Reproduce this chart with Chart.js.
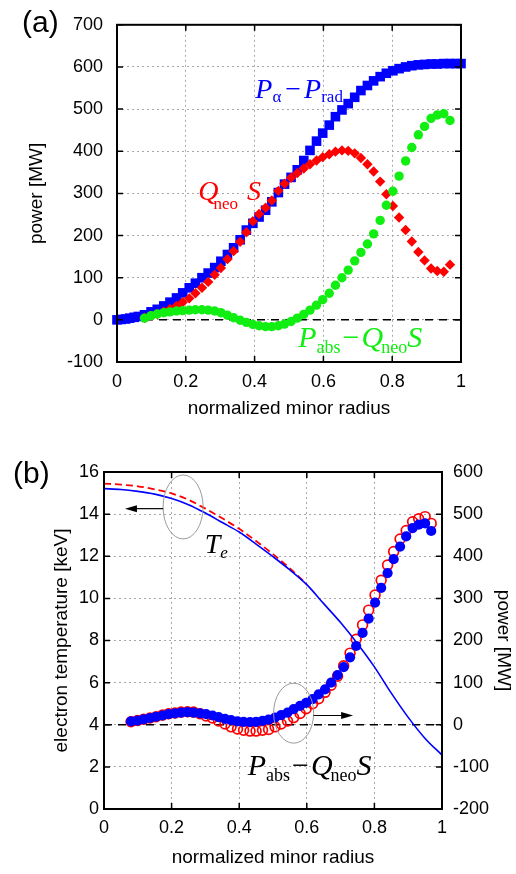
<!DOCTYPE html>
<html>
<head>
<meta charset="utf-8">
<script src="https://cdn.jsdelivr.net/npm/chart.js@4.4.1/dist/chart.umd.min.js"></script>
<style>
  body { margin: 0; background: #fff; }
  #wrap { position: relative; width: 516px; height: 874px; }
  canvas { position: absolute; left: 0; }
  #chartA { top: 0; }
  #chartB { top: 440px; }
</style>
</head>
<body>
<div id="wrap">
  <canvas id="chartA" width="516" height="440"></canvas>
  <canvas id="chartB" width="516" height="434"></canvas>
</div>
<script>
// normalized minor radius of the profile points
const radius = [0.080, 0.099, 0.117, 0.136, 0.154, 0.173, 0.191, 0.210, 0.228, 0.247,
  0.265, 0.284, 0.302, 0.321, 0.339, 0.358, 0.376, 0.395, 0.413, 0.432,
  0.450, 0.469, 0.487, 0.506, 0.524, 0.543, 0.561, 0.580, 0.598, 0.617,
  0.635, 0.654, 0.672, 0.691, 0.709, 0.728, 0.746, 0.765, 0.783, 0.802,
  0.820, 0.839, 0.857, 0.876, 0.894, 0.913, 0.931, 0.950, 0.968];
const alphaRadius = [0, 0.012, 0.025, 0.037, 0.050, 0.062].concat(radius, [0.984, 1.0]);

// (a) power [MW]
const pAlphaMinusRad = [0, 1, 2, 4, 6, 8,
  12, 19, 25, 33, 42, 52, 64, 76, 87, 100,
  111, 124, 139, 155, 171, 190, 213, 229, 244, 260,
  280, 302, 322, 338, 356, 378, 402, 424, 443, 462,
  482, 498, 513, 528, 544, 556, 567, 577, 585, 591,
  596, 600, 603, 605, 606, 607, 607, 608, 608,
  608, 608];
const qNeoS = [5, 10, 14, 20, 26, 33, 42, 51, 63, 76,
  90, 107, 123, 144, 163, 185, 208, 234, 251, 266,
  283, 306, 323, 337, 348, 359, 369, 378, 386, 393,
  399, 402, 401, 395, 384, 369, 352, 328, 298, 270,
  243, 213, 186, 161, 141, 122, 116, 114, 131];
const pAbsMinusQS = [4, 10, 14, 17, 19, 21, 22, 23, 24, 24,
  23, 21, 17, 11, 5, -1, -6, -11, -14, -16,
  -16, -14, -10, -4, 4, 13, 23, 35, 48, 63,
  82, 100, 118, 140, 160, 180, 204, 236, 272, 305,
  341, 377, 409, 439, 459, 478, 486, 489, 473];

// (b) P_abs - Q_neo S [MW], two cases
const pAbsBlue = [8, 10, 13, 16, 19, 22, 25, 27, 29, 30,
  29, 27, 25, 22, 18, 14, 11, 8, 7, 6,
  7, 9, 12, 17, 23, 29, 37, 45, 52, 61,
  72, 84, 100, 118, 137, 160, 187, 218, 252, 290,
  325, 360, 393, 423, 447, 467, 475, 478, 460];
const pAbsRed = [7, 10, 13, 16, 19, 23, 26, 28, 30, 31,
  30, 26, 21, 16, 9, 2, -5, -10, -13, -15,
  -15, -13, -11, -5, 2, 9, 17, 27, 38, 50,
  62, 77, 94, 115, 140, 170, 203, 237, 272, 308,
  343, 379, 411, 441, 461, 482, 489, 494, 478];

// (b) electron temperature [keV]
const teRadius = [0, 0.05, 0.10, 0.15, 0.20, 0.25, 0.30, 0.35, 0.40, 0.45, 0.50,
  0.55, 0.60, 0.65, 0.70, 0.75, 0.80, 0.85, 0.90, 0.95, 1.0];
const teBlue = [15.21, 15.17, 15.08, 14.95, 14.74, 14.45, 14.05, 13.60, 13.15, 12.58, 11.98,
  11.35, 10.65, 9.75, 8.85, 7.85, 6.75, 5.50, 4.35, 3.35, 2.56];
const teRed = [15.45, 15.40, 15.32, 15.18, 14.98, 14.68, 14.26, 13.80, 13.30, 12.72, 12.10,
  11.42, 10.68];

const zeroX = [0, 1];
const zeroY = [0, 0];

const xTicks = [0, 0.2, 0.4, 0.6, 0.8, 1];

const pts = (xs, ys) => ys.map((y, i) => ({ x: xs[i], y: y }));

const tickFont = { family: 'Liberation Sans', size: 18 };
const titleFont = { family: 'Liberation Sans', size: 19 };
const serifIt = s => `italic ${s}px "Liberation Serif"`;
const serif = s => `${s}px "Liberation Serif"`;

const BLUE = '#0000ff';
const RED = '#ff0000';
const GREEN = '#11ee11';

function drawRuns(ctx, x, y, runs, color) {
  ctx.save();
  ctx.fillStyle = color;
  ctx.textAlign = 'left';
  ctx.textBaseline = 'alphabetic';
  runs.forEach(r => {
    ctx.font = r.font;
    x += r.pre || 0;
    ctx.fillText(r.t, x, y + (r.dy || 0));
    x += ctx.measureText(r.t).width;
  });
  ctx.restore();
}

function pAbsRuns(size, sub) {
  return [
    { t: 'P', font: serifIt(size) },
    { t: 'abs', font: serif(sub), dy: 6 },
    { t: '\u2212', font: serif(size), pre: 2 },
    { t: 'Q', font: serifIt(size), pre: 2 },
    { t: 'neo', font: serif(sub), dy: 6, pre: -2 },
    { t: 'S', font: serifIt(size) }
  ];
}

function arrow(ctx, x1, y, x2) {
  const dir = Math.sign(x2 - x1);
  ctx.save();
  ctx.strokeStyle = '#000';
  ctx.fillStyle = '#000';
  ctx.lineWidth = 1.2;
  ctx.beginPath();
  ctx.moveTo(x1, y);
  ctx.lineTo(x2 - dir * 8, y);
  ctx.stroke();
  ctx.beginPath();
  ctx.moveTo(x2, y);
  ctx.lineTo(x2 - dir * 12, y - 3.5);
  ctx.lineTo(x2 - dir * 12, y + 3.5);
  ctx.closePath();
  ctx.fill();
  ctx.restore();
}

function ellipse(ctx, cx, cy, rx, ry) {
  ctx.save();
  ctx.strokeStyle = '#9a9a9a';
  ctx.lineWidth = 1;
  ctx.beginPath();
  ctx.ellipse(cx, cy, rx, ry, 0, 0, Math.PI * 2);
  ctx.stroke();
  ctx.restore();
}

// frame with inward tick marks on all four sides
function frame(chart, leftId, rightId) {
  const { ctx, chartArea: a, scales } = chart;
  const t = 6;
  ctx.save();
  ctx.strokeStyle = '#000';
  ctx.lineWidth = 1.5;
  ctx.beginPath();
  scales.x.ticks.forEach(tk => {
    const px = scales.x.getPixelForValue(tk.value);
    ctx.moveTo(px, a.bottom); ctx.lineTo(px, a.bottom - t);
    ctx.moveTo(px, a.top); ctx.lineTo(px, a.top + t);
  });
  scales[leftId].ticks.forEach(tk => {
    const py = scales[leftId].getPixelForValue(tk.value);
    ctx.moveTo(a.left, py); ctx.lineTo(a.left + t, py);
  });
  scales[rightId].ticks.forEach(tk => {
    const py = scales[rightId].getPixelForValue(tk.value);
    ctx.moveTo(a.right, py); ctx.lineTo(a.right - t, py);
  });
  ctx.stroke();
  ctx.lineWidth = 2;
  ctx.strokeRect(a.left, a.top, a.right - a.left, a.bottom - a.top);
  ctx.restore();
}

function panelLetter(ctx, text, x, y) {
  ctx.save();
  ctx.fillStyle = '#000';
  ctx.font = '30px "Liberation Sans"';
  ctx.textAlign = 'left';
  ctx.textBaseline = 'middle';
  ctx.fillText(text, x, y);
  ctx.restore();
}

function xAxis(height, tickPad, titlePad) {
  return {
    type: 'linear', min: 0, max: 1,
    afterBuildTicks: s => { s.ticks = xTicks.map(v => ({ value: v })); },
    ticks: { font: tickFont, color: '#000', padding: tickPad, maxRotation: 0, callback: v => String(v) },
    grid: { color: '#a8a8a8', lineWidth: 1, drawTicks: false },
    border: { display: false, dash: [2, 3] },
    title: { display: true, text: 'normalized minor radius', font: titleFont, color: '#000',
      padding: { top: 0, bottom: titlePad } },
    afterFit: s => { s.height = height; }
  };
}

function yAxis(pos, min, max, step, width, tickPad, title, titlePad, showGrid) {
  return {
    type: 'linear', position: pos, min: min, max: max,
    ticks: { stepSize: step, font: tickFont, color: '#000', padding: tickPad, callback: v => String(v) },
    grid: { display: showGrid, color: '#a8a8a8', lineWidth: 1, drawTicks: false },
    border: { display: false, dash: [2, 3] },
    title: { display: true, text: title, font: titleFont, color: '#000',
      padding: { top: titlePad, bottom: 0 } },
    afterFit: s => { s.width = width; }
  };
}

const common = {
  responsive: false,
  devicePixelRatio: 1,
  animation: false,
  events: [],
  plugins: { legend: { display: false }, tooltip: { enabled: false } }
};

// ---------- (a) ----------
new Chart(document.getElementById('chartA'), {
  type: 'scatter',
  data: {
    datasets: [
      { data: pts(radius, pAbsMinusQS), pointStyle: 'circle', pointRadius: 4.7,
        backgroundColor: GREEN, borderColor: GREEN, borderWidth: 0, clip: false },
      { data: pts(radius, qNeoS), pointStyle: 'rectRot', pointRadius: 5.2,
        backgroundColor: RED, borderColor: RED, borderWidth: 0, clip: false },
      { data: pts(alphaRadius, pAlphaMinusRad), pointStyle: 'rect', pointRadius: 6.8,
        backgroundColor: BLUE, borderColor: BLUE, borderWidth: 0, clip: false },
      { data: pts(zeroX, zeroY), showLine: true, pointRadius: 0, borderColor: '#000',
        borderWidth: 1.5, borderDash: [8, 6] }
    ]
  },
  options: Object.assign({}, common, {
    layout: { padding: { top: 19, right: 55, left: 0, bottom: 0 } },
    scales: {
      x: xAxis(78, 9, 19.6),
      y: yAxis('left', -100, 700, 100, 117, 14, 'power [MW]', 25.6, true)
    }
  }),
  plugins: [{
    id: 'panelA',
    afterDraw(chart) {
      const { ctx, scales: { x, y } } = chart;
      frame(chart, 'y', 'y');
      panelLetter(ctx, '(a)', 22, 24);
      drawRuns(ctx, x.getPixelForValue(0.402), y.getPixelForValue(527), [
        { t: 'P', font: serifIt(28) },
        { t: '\u03b1', font: serif(17), dy: 4 },
        { t: '\u2212', font: serif(28), pre: 4 },
        { t: 'P', font: serifIt(28), pre: 3 },
        { t: 'rad', font: serif(17), dy: 4 }
      ], BLUE);
      drawRuns(ctx, x.getPixelForValue(0.236), y.getPixelForValue(284), [
        { t: 'Q', font: serifIt(28) },
        { t: 'neo', font: serif(17), dy: 9, pre: -5 },
        { t: 'S', font: serifIt(28), pre: 9 }
      ], RED);
      drawRuns(ctx, x.getPixelForValue(0.527), y.getPixelForValue(-65), pAbsRuns(30, 18), GREEN);
    }
  }]
});

// ---------- (b) ----------
new Chart(document.getElementById('chartB'), {
  type: 'scatter',
  data: {
    datasets: [
      { data: pts(teRadius, teBlue), showLine: true, pointRadius: 0, borderColor: BLUE,
        borderWidth: 1.6, cubicInterpolationMode: 'monotone', yAxisID: 'y' },
      { data: pts(teRadius, teRed), showLine: true, pointRadius: 0, borderColor: RED,
        borderWidth: 1.8, borderDash: [7, 4], cubicInterpolationMode: 'monotone', yAxisID: 'y' },
      { data: pts(radius, pAbsBlue), pointStyle: 'circle', pointRadius: 5.1,
        backgroundColor: BLUE, borderColor: BLUE, borderWidth: 0, yAxisID: 'y2', clip: false },
      { data: pts(radius, pAbsRed), pointStyle: 'circle', pointRadius: 4.9,
        backgroundColor: 'rgba(0,0,0,0)', borderColor: RED, borderWidth: 1.7, yAxisID: 'y2', clip: false },
      { data: pts(zeroX, zeroY), showLine: true, pointRadius: 0, borderColor: '#000',
        borderWidth: 1.5, borderDash: [8, 6], yAxisID: 'y2' }
    ]
  },
  options: Object.assign({}, common, {
    layout: { padding: { top: 32, right: 0, left: 0, bottom: 0 } },
    scales: {
      x: xAxis(65, 8, 4.6),
      y: yAxis('left', 0, 16, 2, 104, 5, 'electron temperature [keV]', 50, true),
      y2: yAxis('right', -200, 600, 100, 74, 11, 'power [MW]', 1.1, false)
    }
  }),
  plugins: [{
    id: 'panelB',
    afterDraw(chart) {
      const { ctx, scales: { x, y, y2 } } = chart;
      frame(chart, 'y', 'y2');
      panelLetter(ctx, '(b)', 13, 35);
      ellipse(ctx, x.getPixelForValue(0.234), y.getPixelForValue(14.34), 20, 32);
      arrow(ctx, x.getPixelForValue(0.175), y.getPixelForValue(14.26), x.getPixelForValue(0.062));
      ellipse(ctx, x.getPixelForValue(0.561), y.getPixelForValue(4.55), 20, 30);
      arrow(ctx, x.getPixelForValue(0.620), y2.getPixelForValue(22), x.getPixelForValue(0.737));
      drawRuns(ctx, x.getPixelForValue(0.298), y.getPixelForValue(12.14), [
        { t: 'T', font: serifIt(28) },
        { t: 'e', font: serifIt(17), dy: 5 }
      ], '#000');
      drawRuns(ctx, x.getPixelForValue(0.425), y.getPixelForValue(1.61), pAbsRuns(30, 18), '#000');
    }
  }]
});
</script>
</body>
</html>
